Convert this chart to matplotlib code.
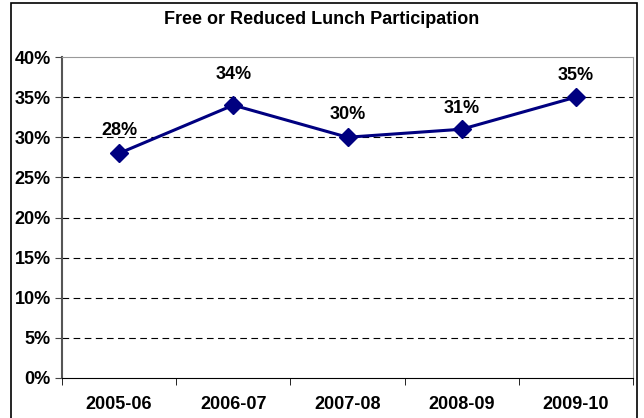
import matplotlib
matplotlib.use("Agg")
import matplotlib.pyplot as plt
from matplotlib.patches import Rectangle
from matplotlib.ticker import FuncFormatter

years = ["2005-06", "2006-07", "2007-08", "2008-09", "2009-10"]
rates = [28, 34, 30, 31, 35]
yticks = [0, 5, 10, 15, 20, 25, 30, 35, 40]

plt.rcParams['font.family'] = ['Liberation Sans', 'DejaVu Sans']
plt.rcParams['font.weight'] = 'bold'

fig = plt.figure(figsize=(6.44, 4.18), dpi=100)
ax = fig.add_axes([62/644, 40/418, 571/644, 321/418])

# outer chart border
fig.patches.append(Rectangle((11/644, -0.01), 626/644, 1 - 3/418 + 0.01,
                             transform=fig.transFigure, fill=False,
                             edgecolor='black', linewidth=1.2))

xs = list(range(len(years)))
ax.plot(xs, rates, color='#000080', linewidth=2.2, marker='D', markersize=9.5, zorder=3)
# label offsets in pixels above each point (Excel moved the 2006-07 one up)
lift = [23, 31, 23, 21, 22]
for x, r, d in zip(xs, rates, lift):
    ax.annotate("%d%%" % r, (x, r), xytext=(0, d), textcoords='offset pixels',
                ha='center', va='center', fontsize=13, fontweight='bold')

ax.set_xlim(-0.5, len(years) - 0.5)
ax.set_ylim(0, 40)
ax.set_yticks(yticks)
ax.yaxis.set_major_formatter(FuncFormatter(lambda v, p: "%d%%" % v))
ax.set_xticks(xs)
ax.set_xticklabels(years)
ax.set_xticks([i + 0.5 for i in range(-1, len(years))], minor=True)
ax.tick_params(axis='x', which='major', length=0, pad=13, labelsize=13)
ax.tick_params(axis='x', which='minor', length=5, direction='out', color='black')
ax.tick_params(axis='y', length=5, direction='out', labelsize=13, pad=3, color='#444444')
for lab in ax.get_xticklabels() + ax.get_yticklabels():
    lab.set_fontweight('bold')

for y in yticks[1:-1]:
    ax.axhline(y, color='black', linestyle=(0, (6, 4)), linewidth=0.8, zorder=1)

ax.spines['top'].set_color('#999999')
ax.spines['right'].set_color('#999999')
ax.spines['left'].set_color('#555555')
ax.spines['left'].set_linewidth(1.5)
ax.spines['bottom'].set_color('black')

fig.text(0.5, 1 - 19/418, "Free or Reduced Lunch Participation", ha='center', va='center',
         fontsize=13, fontweight='bold')

fig.savefig("out.png", dpi=100)
